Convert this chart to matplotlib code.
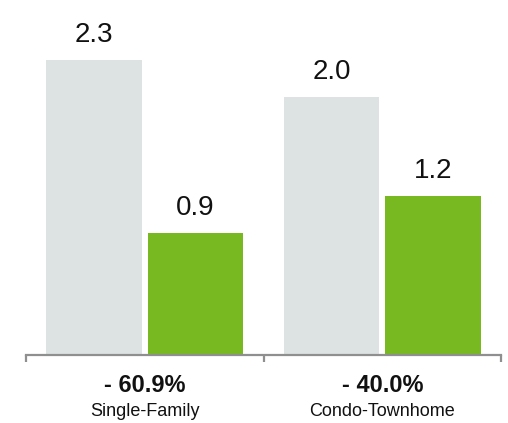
import matplotlib.pyplot as plt
import numpy as np

plt.rcParams['font.family'] = ['Liberation Sans', 'DejaVu Sans']

# values per housing type
categories = ["Single-Family", "Condo-Townhome"]
changes = ["- 60.9%", "- 40.0%"]
before = [2.3, 2.0]
after = [0.9, 1.2]

gray = "#dde3e3"
green = "#78b821"
axis_gray = "#8f8f8f"

fig = plt.figure(figsize=(5.08, 4.23), dpi=100)
ax = fig.add_axes([26 / 508, 68 / 423, 475 / 508, 355 / 423])

floor = -0.087  # bars rise from slightly below zero
ax.set_xlim(-0.5, 1.5)
ax.set_ylim(floor, floor + 355 / 123.6)

x = np.arange(len(categories))
w = 0.403
off = 0.214
ax.bar(x - off, np.array(before) - floor, w, bottom=floor, color=gray)
ax.bar(x + off, np.array(after) - floor, w, bottom=floor, color=green)

for xs, vals in ((x - off, before), (x + off, after)):
    for xi, v in zip(xs, vals):
        ax.text(xi, v + 0.148, f"{v:.1f}", ha="center", va="baseline",
                fontsize=20, color="#111111")

for spine in ("top", "right", "left"):
    ax.spines[spine].set_visible(False)
ax.spines["bottom"].set_color(axis_gray)
ax.spines["bottom"].set_linewidth(1.6)
ax.set_yticks([])
ax.set_xticks([-0.5, 0.5, 1.5])
ax.set_xticklabels([])
ax.tick_params(axis="x", length=5, width=1.6, color=axis_gray)

trans = ax.get_xaxis_transform()
for xi, ch, cat in zip(x, changes, categories):
    ax.text(xi, -0.104, ch, transform=trans, ha="center", va="baseline",
            fontsize=17, fontweight="bold", color="#111111")
    ax.text(xi, -0.172, cat, transform=trans, ha="center", va="baseline",
            fontsize=13, color="#111111")

fig.savefig("out.png", dpi=100)
